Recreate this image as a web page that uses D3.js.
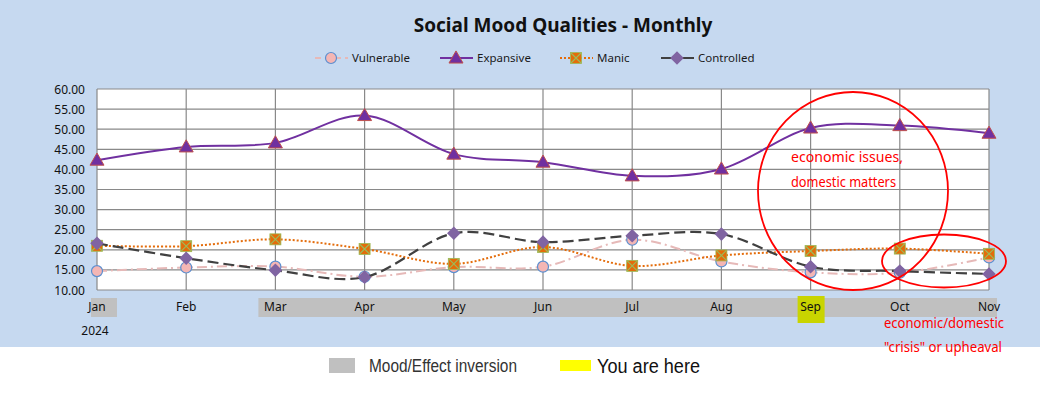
<!DOCTYPE html>
<html>
<head>
<meta charset="utf-8">
<script src="https://cdn.jsdelivr.net/npm/d3@7"></script>
<style>
  body { margin: 0; background: #fff; }
  svg { display: block; font-family: "Noto Sans", "Open Sans", sans-serif; }
</style>
</head>
<body>
<svg id="chart"></svg>
<script>
// values
var months = ["Jan", "Feb", "Mar", "Apr", "May", "Jun", "Jul", "Aug", "Sep", "Oct", "Nov"];
var vulnerable = [14.7, 15.6, 15.8, 13.3, 15.7, 15.8, 22.5, 17.1, 14.4, 14.3, 18.1];
var expansive  = [42.3, 45.6, 46.6, 53.4, 43.8, 41.8, 38.4, 40.1, 50.3, 50.9, 49.0];
var manic      = [21.0, 20.9, 22.6, 20.2, 16.5, 20.7, 16.0, 18.6, 19.7, 20.3, 19.0];
var controlled = [21.6, 17.9, 14.9, 13.2, 24.1, 21.9, 23.5, 23.9, 15.8, 14.7, 14.0];
var yTicks = [10, 15, 20, 25, 30, 35, 40, 45, 50, 55, 60];
var inversionSpans = [["Jan", "Jan"], ["Mar", "Nov"]];
var currentMonth = "Sep";

var width = 1040, height = 395;
var svg = d3.select("#chart").attr("width", width).attr("height", height);

// backgrounds
svg.append("rect").attr("width", width).attr("height", 347).attr("fill", "#c6d9f0");
svg.append("rect").attr("y", 347).attr("width", width).attr("height", height - 347).attr("fill", "#ffffff");

var x = d3.scalePoint().domain(months).range([97, 989]);
var y = d3.scaleLinear().domain([10, 60]).range([290, 89]);

// title
svg.append("text")
    .attr("x", 563).attr("y", 32)
    .attr("text-anchor", "middle")
    .attr("font-size", "19px").attr("font-weight", "bold")
    .attr("fill", "#111")
    .text("Social Mood Qualities - Monthly");

// plot area
svg.append("rect")
    .attr("x", x("Jan")).attr("y", y(60))
    .attr("width", x("Nov") - x("Jan")).attr("height", y(10) - y(60))
    .attr("fill", "#fff");

var grid = svg.append("g");
grid.selectAll(".h").data(yTicks).enter().append("line")
    .attr("x1", x("Jan")).attr("x2", x("Nov"))
    .attr("y1", d => y(d)).attr("y2", d => y(d))
    .attr("stroke", "#898989").attr("stroke-width", 1.2);
grid.selectAll(".v").data(months).enter().append("line")
    .attr("x1", d => x(d)).attr("x2", d => x(d))
    .attr("y1", y(60)).attr("y2", y(10))
    .attr("stroke", "#898989").attr("stroke-width", 1.2);

// y axis labels
svg.append("g").selectAll("text").data(yTicks).enter().append("text")
    .attr("x", 85).attr("y", d => y(d) + 4.5)
    .attr("text-anchor", "end")
    .attr("font-size", "12px").attr("fill", "#111")
    .text(d => d3.format(".2f")(d));

// inversion bands behind x labels
svg.append("g").selectAll("rect").data(inversionSpans).enter().append("rect")
    .attr("x", d => d[0] === "Jan" ? x(d[0]) - 6 : x(d[0]) - 17)
    .attr("y", 298)
    .attr("width", d => d[0] === "Jan" ? 26 : x(d[1]) + 8 - (x(d[0]) - 17))
    .attr("height", 19)
    .attr("fill", "#c0c0c0");

svg.append("rect")
    .attr("x", x(currentMonth) - 13).attr("y", 296)
    .attr("width", 27).attr("height", 27)
    .attr("fill", "#c9d400");

// x labels
svg.append("g").selectAll("text").data(months).enter().append("text")
    .attr("x", d => x(d)).attr("y", 311)
    .attr("text-anchor", "middle")
    .attr("font-size", "12px").attr("fill", "#111")
    .text(d => d);

svg.append("text")
    .attr("x", 95).attr("y", 335)
    .attr("text-anchor", "middle")
    .attr("font-size", "12px").attr("fill", "#111")
    .text("2024");

// series
var series = [
  { name: "Vulnerable", values: vulnerable, color: "#e6b9b8", dash: "10,4,2,4", width: 2, marker: "circle" },
  { name: "Expansive", values: expansive, color: "#7030a0", dash: null, width: 2, marker: "triangle" },
  { name: "Manic", values: manic, color: "#e46c0a", dash: "2,2", width: 2, marker: "square" },
  { name: "Controlled", values: controlled, color: "#404040", dash: "11,5", width: 2.2, marker: "diamond" }
];

var line = d3.line()
    .x((d, i) => x(months[i]))
    .y(d => y(d))
    .curve(d3.curveCardinal.tension(0));

function drawMarker(g, type, cx, cy) {
  if (type === "circle") {
    g.append("circle").attr("cx", cx).attr("cy", cy).attr("r", 5.5)
        .attr("fill", "#f4b6b4").attr("stroke", "#5b8fd0").attr("stroke-width", 1.2);
  } else if (type === "triangle") {
    g.append("path")
        .attr("d", d3.symbol().type(d3.symbolTriangle).size(85)())
        .attr("transform", "translate(" + cx + "," + (cy + 1) + ")")
        .attr("fill", "#7030a0").attr("stroke", "#c0504d").attr("stroke-width", 1);
  } else if (type === "square") {
    g.append("rect").attr("x", cx - 5.5).attr("y", cy - 5.5).attr("width", 11).attr("height", 11)
        .attr("fill", "#e46c0a").attr("stroke", "#9bbb59").attr("stroke-width", 0.8);
    g.append("path")
        .attr("d", "M" + (cx - 5) + "," + (cy - 5) + "L" + (cx + 5) + "," + (cy + 5) +
                   "M" + (cx + 5) + "," + (cy - 5) + "L" + (cx - 5) + "," + (cy + 5))
        .attr("stroke", "#9bbb59").attr("stroke-width", 1.2);
  } else if (type === "diamond") {
    // square rotated 45 degrees
    g.append("rect")
        .attr("x", -4.8).attr("y", -4.8).attr("width", 9.6).attr("height", 9.6)
        .attr("transform", "translate(" + cx + "," + cy + ") rotate(45)")
        .attr("fill", "#8064a2");
  }
}

series.forEach(function(s) {
  var g = svg.append("g");
  g.append("path")
      .datum(s.values)
      .attr("d", line)
      .attr("fill", "none")
      .attr("stroke", s.color)
      .attr("stroke-width", s.width)
      .attr("stroke-dasharray", s.dash);
  s.values.forEach(function(v, i) {
    drawMarker(g, s.marker, x(months[i]), y(v));
  });
});

// legend
var legendX = [315, 440, 560, 661];
series.forEach(function(s, i) {
  var g = svg.append("g");
  var lx = legendX[i];
  g.append("line")
      .attr("x1", lx).attr("x2", lx + 33).attr("y1", 58).attr("y2", 58)
      .attr("stroke", s.color).attr("stroke-width", s.width)
      .attr("stroke-dasharray", s.dash === "10,4,2,4" ? "6,4" : s.dash === "11,5" ? null : s.dash);
  drawMarker(g, s.marker, lx + 16, 58);
  g.append("text")
      .attr("x", lx + 37).attr("y", 62)
      .attr("font-size", "11.5px").attr("fill", "#1a1a1a")
      .text(s.name);
});

// annotations
var notes = svg.append("g");
notes.append("ellipse")
    .attr("cx", 853).attr("cy", 191).attr("rx", 95).attr("ry", 99)
    .attr("fill", "none").attr("stroke", "#ff0000").attr("stroke-width", 1.8);
notes.append("ellipse")
    .attr("cx", 944).attr("cy", 261).attr("rx", 62).attr("ry", 26.5)
    .attr("fill", "none").attr("stroke", "#ff0000").attr("stroke-width", 1.8);

var noteLines = [
  ["economic issues,", 791, 162, 112],
  ["domestic matters", 791, 187, 105],
  ["economic/domestic", 884, 328, 120],
  ["\"crisis\" or upheaval", 884, 352, 118]
];
notes.selectAll("text.note").data(noteLines).enter().append("text")
    .attr("x", d => d[1]).attr("y", d => d[2])
    .attr("font-size", "14px").attr("fill", "#ff0000")
    .attr("textLength", d => d[3]).attr("lengthAdjust", "spacingAndGlyphs")
    .text(d => d[0]);

// bottom legend
svg.append("rect").attr("x", 329).attr("y", 358).attr("width", 26).attr("height", 15).attr("fill", "#c0c0c0");
svg.append("text")
    .attr("x", 369).attr("y", 372)
    .attr("font-family", "Liberation Sans Narrow, Liberation Sans, sans-serif")
    .attr("font-size", "18px").attr("fill", "#333")
    .attr("textLength", 148).attr("lengthAdjust", "spacingAndGlyphs")
    .text("Mood/Effect inversion");
svg.append("rect").attr("x", 560).attr("y", 360).attr("width", 31).attr("height", 11).attr("fill", "#ffff00");
svg.append("text")
    .attr("x", 597).attr("y", 373)
    .attr("font-family", "Liberation Sans, sans-serif")
    .attr("font-size", "20px").attr("fill", "#111")
    .attr("textLength", 103).attr("lengthAdjust", "spacingAndGlyphs")
    .text("You are here");
</script>
</body>
</html>
